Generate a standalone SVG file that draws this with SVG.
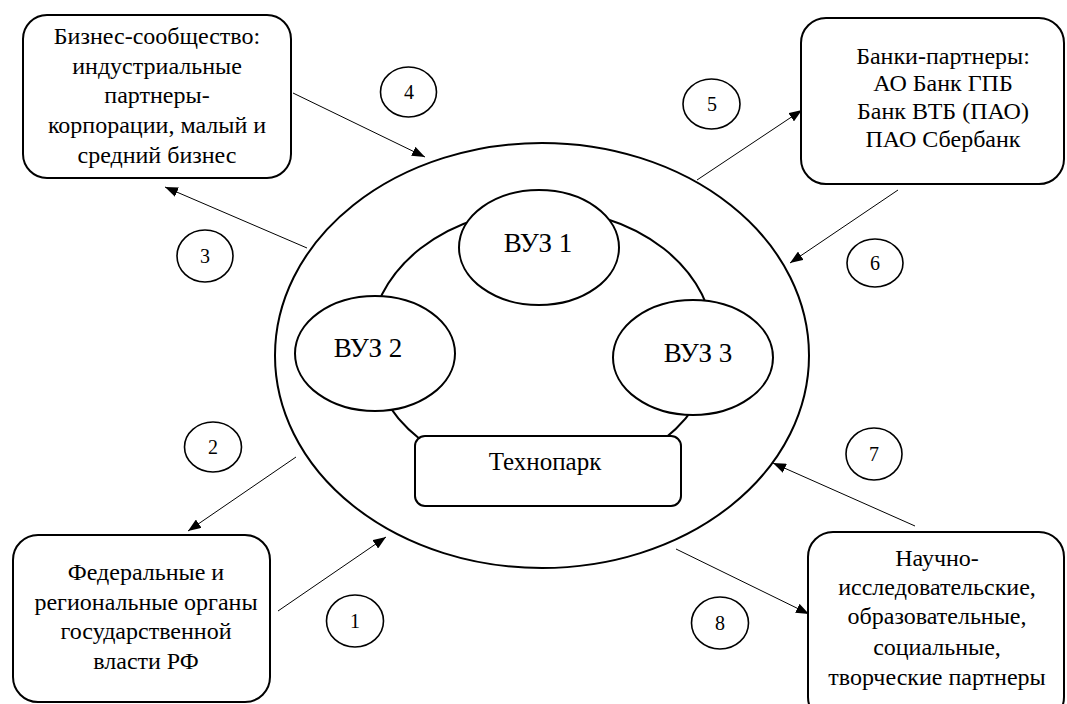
<svg xmlns="http://www.w3.org/2000/svg" width="1067" height="704" viewBox="0 0 1067 704">
<style>
  .box { fill: #fff; stroke: #000; stroke-width: 2; }
  .ell { fill: #fff; stroke: #000; stroke-width: 2; }
  .num { fill: #fff; stroke: #000; stroke-width: 1.6; }
  text { font-family: "Liberation Serif", "Times New Roman", serif; fill: #000; text-anchor: middle; }
  .t { font-size: 24px; }
  .tv { font-size: 27px; }
  .tp { font-size: 25px; }
  .tn { font-size: 20px; }
  .conn line { stroke: #000; stroke-width: 1; marker-end: url(#arr); }
</style>
<defs>
  <marker id="arr" markerUnits="userSpaceOnUse" markerWidth="14" markerHeight="10" refX="13" refY="5" orient="auto">
    <path d="M0,0 L13,5 L0,10 z" fill="#000"/>
  </marker>
</defs>
<rect width="1067" height="704" fill="#fff"/>

<g id="outer"><ellipse class="ell" cx="542" cy="355.5" rx="267" ry="212.5"/></g>
<g id="inner"><ellipse class="ell" cx="542" cy="344" rx="172" ry="135"/></g>
<g id="vuz1">
  <ellipse class="ell" cx="539" cy="247.5" rx="80" ry="57.5"/>
  <text class="tv" x="538" y="252">ВУЗ 1</text>
</g>
<g id="vuz2">
  <ellipse class="ell" cx="375" cy="353.5" rx="80" ry="57.5"/>
  <text class="tv" x="368" y="357">ВУЗ 2</text>
</g>
<g id="vuz3">
  <ellipse class="ell" cx="693" cy="357.5" rx="80" ry="57.5"/>
  <text class="tv" x="698" y="362">ВУЗ 3</text>
</g>
<g id="technopark">
  <rect class="box" x="415" y="436" width="266" height="70" rx="10"/>
  <text class="tp" x="545" y="470">Технопарк</text>
</g>

<g id="business">
  <rect class="box" x="23" y="15" width="268" height="163" rx="24"/>
  <text class="t" x="157" y="44">Бизнес-сообщество:</text>
  <text class="t" x="157" y="74">индустриальные</text>
  <text class="t" x="157" y="103">партнеры-</text>
  <text class="t" x="157" y="133">корпорации, малый и</text>
  <text class="t" x="157" y="163">средний бизнес</text>
</g>
<g id="banks">
  <rect class="box" x="801" y="18" width="263" height="166" rx="25"/>
  <text class="t" x="943" y="64">Банки-партнеры:</text>
  <text class="t" x="943" y="91">АО Банк ГПБ</text>
  <text class="t" x="943" y="119">Банк ВТБ (ПАО)</text>
  <text class="t" x="943" y="147">ПАО Сбербанк</text>
</g>
<g id="government">
  <rect class="box" x="13" y="535" width="257" height="167" rx="25"/>
  <text class="t" x="146" y="580">Федеральные и</text>
  <text class="t" x="146" y="610">региональные органы</text>
  <text class="t" x="146" y="639">государственной</text>
  <text class="t" x="146" y="669">власти РФ</text>
</g>
<g id="research">
  <rect class="box" x="808" y="532" width="256" height="190" rx="25"/>
  <text class="t" x="937" y="566">Научно-</text>
  <text class="t" x="937" y="595">исследовательские,</text>
  <text class="t" x="937" y="624">образовательные,</text>
  <text class="t" x="937" y="655">социальные,</text>
  <text class="t" x="937" y="685">творческие партнеры</text>
</g>

<g id="n1"><ellipse class="num" cx="355" cy="621" rx="28.5" ry="26"/><text class="tn" x="355" y="628">1</text></g>
<g id="n2"><ellipse class="num" cx="213" cy="447" rx="28.5" ry="25"/><text class="tn" x="213" y="454">2</text></g>
<g id="n3"><ellipse class="num" cx="205" cy="256" rx="28" ry="26"/><text class="tn" x="205" y="263">3</text></g>
<g id="n4"><ellipse class="num" cx="408.5" cy="92" rx="28" ry="25"/><text class="tn" x="409" y="99">4</text></g>
<g id="n5"><ellipse class="num" cx="711.5" cy="104" rx="28.5" ry="25"/><text class="tn" x="712" y="111">5</text></g>
<g id="n6"><ellipse class="num" cx="875" cy="263" rx="28" ry="24"/><text class="tn" x="875" y="270">6</text></g>
<g id="n7"><ellipse class="num" cx="874" cy="454" rx="28" ry="26"/><text class="tn" x="874" y="461">7</text></g>
<g id="n8"><ellipse class="num" cx="720" cy="623" rx="28.5" ry="26"/><text class="tn" x="720" y="630">8</text></g>

<g id="connectors" class="conn">
  <line x1="278" y1="611" x2="386" y2="537"/>
  <line x1="296" y1="457" x2="188" y2="531"/>
  <line x1="307" y1="248" x2="165" y2="187"/>
  <line x1="293" y1="93" x2="425" y2="157"/>
  <line x1="697" y1="180" x2="802" y2="110"/>
  <line x1="898" y1="190" x2="790" y2="263"/>
  <line x1="915" y1="526" x2="773" y2="463"/>
  <line x1="676" y1="549" x2="809" y2="614"/>
</g>
</svg>
